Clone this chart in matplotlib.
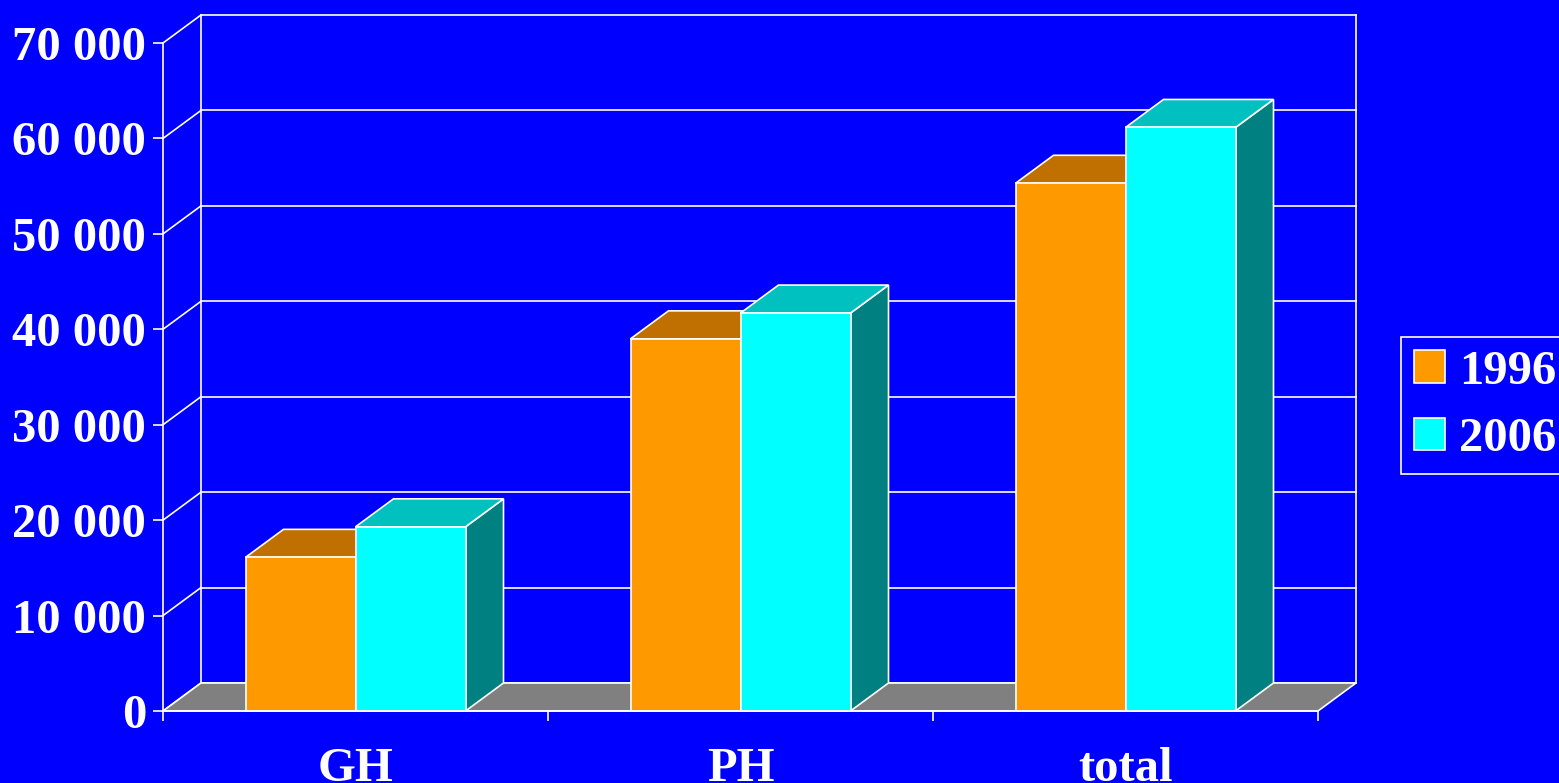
import matplotlib
matplotlib.use("Agg")
import matplotlib.pyplot as plt
from matplotlib.patches import Polygon, Patch
from matplotlib.ticker import FuncFormatter
import numpy as np

categories = ["GH", "PH", "total"]
series_names = ["1996", "2006"]
values_1996 = [16100, 39000, 55300]
values_2006 = [19300, 41700, 61150]
yticks = [0, 10000, 20000, 30000, 40000, 50000, 60000, 70000]

BLUE = "#0000FF"
front_cols = ["#FF9900", "#00FFFF"]
top_cols = ["#C07000", "#00C0C0"]
side_cols = ["#A05C00", "#008080"]
FLOOR = "#808080"
FONT = "Liberation Serif"
FS = 35

W, H = 1559, 783
fig = plt.figure(figsize=(W / 100, H / 100), dpi=100, facecolor=BLUE)
ax = fig.add_axes([163 / W, (H - 711) / H, 1155 / W, 668 / H])
ax.set_facecolor("none")
ax.set_xlim(-0.5, 2.5)
ax.set_ylim(0, 70000)

# depth offset in data units (38 px right, 28 px up)
DX = 38 / 385
DY = 28 * 70000 / 668

lw = 1.2
x = np.arange(len(categories))
bw = 2 / 7

# back wall gridlines
for v in yticks:
    ax.plot([-0.5 + DX, 2.5 + DX], [v + DY, v + DY], color="white", lw=lw, clip_on=False, zorder=1)
    ax.plot([-0.5, -0.5 + DX], [v, v + DY], color="white", lw=lw, clip_on=False, zorder=1)
ax.plot([-0.5 + DX, -0.5 + DX], [DY, 70000 + DY], color="white", lw=lw, clip_on=False, zorder=1)
ax.plot([2.5 + DX, 2.5 + DX], [DY, 70000 + DY], color="white", lw=lw, clip_on=False, zorder=1)

# floor
floor = Polygon([(-0.5, 0), (2.5, 0), (2.5 + DX, DY), (-0.5 + DX, DY)], closed=True,
                facecolor=FLOOR, edgecolor="white", lw=lw, clip_on=False, zorder=2)
ax.add_patch(floor)

# bars
for i, vals in enumerate([values_1996, values_2006]):
    lefts = x - bw + i * bw
    zb = 4 + 2 * i
    for xl, v in zip(lefts, vals):
        top = Polygon([(xl, v), (xl + bw, v), (xl + bw + DX, v + DY), (xl + DX, v + DY)],
                      closed=True, facecolor=top_cols[i], edgecolor="white", lw=lw,
                      clip_on=False, zorder=zb)
        side = Polygon([(xl + bw, 0), (xl + bw + DX, DY), (xl + bw + DX, v + DY), (xl + bw, v)],
                       closed=True, facecolor=side_cols[i], edgecolor="white", lw=lw,
                       clip_on=False, zorder=zb)
        ax.add_patch(side)
        ax.add_patch(top)
    ax.bar(lefts, vals, width=bw, align="edge", color=front_cols[i], edgecolor="white",
           linewidth=lw, zorder=zb + 1, clip_on=False)

# axes styling
for s in ["top", "right"]:
    ax.spines[s].set_visible(False)
for s in ["left", "bottom"]:
    ax.spines[s].set_color("white")
    ax.spines[s].set_linewidth(lw)
    ax.spines[s].set_zorder(10)

ax.set_yticks(yticks)
ax.yaxis.set_major_formatter(FuncFormatter(lambda v, p: f"{int(v):,}".replace(",", " ")))
ax.tick_params(axis="y", direction="out", length=7, width=lw, color="white",
               labelcolor="white", labelsize=FS, pad=5)
ax.set_xticks(x)
ax.set_xticklabels(categories)
ax.set_xticks([-0.5, 0.5, 1.5, 2.5], minor=True)
ax.tick_params(axis="x", which="major", length=0, labelcolor="white", labelsize=FS, pad=26)
ax.tick_params(axis="x", which="minor", direction="out", length=7, width=lw, color="white")
for lab in ax.get_xticklabels() + ax.get_yticklabels():
    lab.set_fontfamily(FONT)
    lab.set_fontweight("bold")

handles = [Patch(facecolor=front_cols[0], edgecolor="white", lw=lw),
           Patch(facecolor=front_cols[1], edgecolor="white", lw=lw)]
leg = fig.legend(handles, series_names, loc="upper left",
                 bbox_to_anchor=(1401 / W, 1 - 337 / H), borderaxespad=0,
                 frameon=True, fancybox=False, facecolor=BLUE, edgecolor="white",
                 framealpha=1, prop={"family": FONT, "weight": "bold", "size": FS},
                 labelcolor="white", handlelength=0.64, handleheight=0.64,
                 handletextpad=0.3, borderpad=0.26, labelspacing=0.48)
leg.get_frame().set_linewidth(lw)

fig.savefig("out.png", dpi=100, facecolor=BLUE)
